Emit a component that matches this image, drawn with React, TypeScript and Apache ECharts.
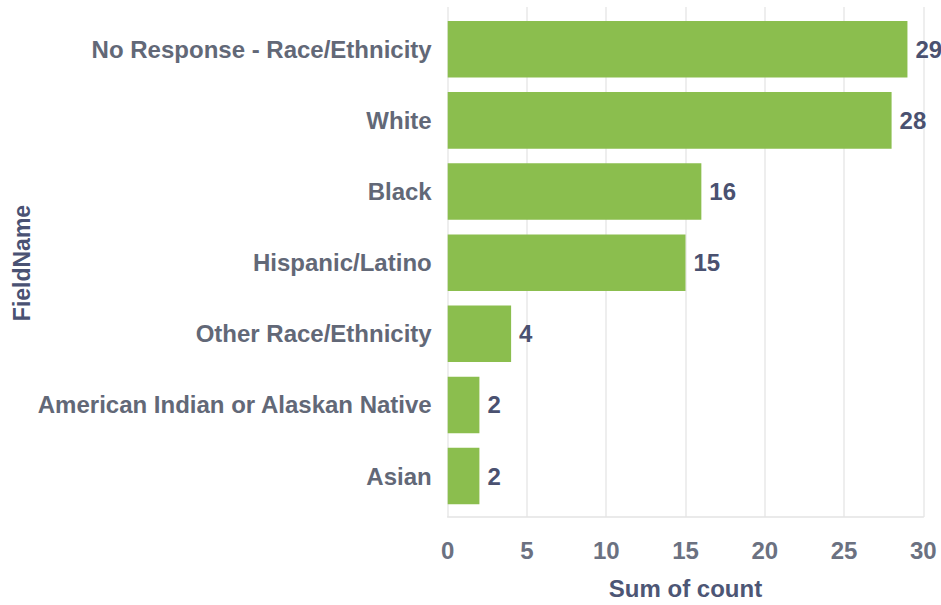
import React, { useEffect, useRef } from "react";
import * as echarts from "echarts";

const categories = [
  "No Response - Race/Ethnicity",
  "White",
  "Black",
  "Hispanic/Latino",
  "Other Race/Ethnicity",
  "American Indian or Alaskan Native",
  "Asian",
];
const counts = [29, 28, 16, 15, 4, 2, 2];
const xTicks = { min: 0, max: 30, interval: 5 };
const xAxisTitle = "Sum of count";
const yAxisTitle = "FieldName";

const FONT = "'Liberation Sans', Arial, sans-serif";

export default function App() {
  const ref = useRef<HTMLDivElement>(null);
  useEffect(() => {
    if (!ref.current) return;
    const chart = echarts.init(ref.current, null, { renderer: "svg" });
    chart.setOption({
      animation: false,
      textStyle: { fontFamily: FONT },
      grid: [
        { left: 447.7, right: 17.7, top: 7, bottom: 87.3, containLabel: false },
        { left: 447.7, right: 17.7, top: 13.7, bottom: 93.4, containLabel: false },
      ],
      xAxis: [
        {
          type: "value",
          gridIndex: 0,
          min: xTicks.min,
          max: xTicks.max,
          interval: xTicks.interval,
          axisLine: { show: true, lineStyle: { color: "#e3e3e3", width: 1.5 } },
          axisTick: { show: false },
          splitLine: { show: true, lineStyle: { color: "#e8e8e8", width: 1.5 } },
          axisLabel: {
            color: "#6b7181",
            fontSize: 24,
            fontWeight: "bold",
            fontFamily: FONT,
            margin: 21,
          },
          name: xAxisTitle,
          nameLocation: "middle",
          nameGap: 59,
          nameTextStyle: {
            color: "#4d5675",
            fontSize: 24,
            fontWeight: "bold",
            fontFamily: FONT,
          },
        },
        {
          type: "value",
          gridIndex: 1,
          min: xTicks.min,
          max: xTicks.max,
          interval: xTicks.interval,
          show: false,
          splitLine: { show: false },
        },
      ],
      yAxis: [
        { type: "value", gridIndex: 0, show: false, splitLine: { show: false } },
        {
          type: "category",
          gridIndex: 1,
          inverse: true,
          data: categories,
          axisLine: { show: false },
          axisTick: { show: false },
          splitLine: { show: false },
          axisLabel: {
            color: "#626877",
            fontSize: 24,
            fontWeight: "bold",
            fontFamily: FONT,
            margin: 16,
          },
        },
      ],
      series: [
        {
          type: "bar",
          xAxisIndex: 1,
          yAxisIndex: 1,
          data: counts,
          barCategoryGap: "20.5%",
          itemStyle: { color: "#8bbe4e" },
          label: {
            show: true,
            position: "right",
            distance: 8,
            color: "#4a5170",
            fontSize: 24,
            fontWeight: "bold",
            fontFamily: FONT,
          },
        },
      ],
      graphic: [
        {
          type: "text",
          x: 22,
          y: 263,
          rotation: Math.PI / 2,
          style: {
            text: yAxisTitle,
            fill: "#4a5273",
            fontSize: 23,
            fontWeight: "bold",
            fontFamily: FONT,
            align: "center",
            verticalAlign: "middle",
          },
        },
      ],
    });
    return () => chart.dispose();
  }, []);
  return <div ref={ref} style={{ width: 941, height: 605, position: "absolute", left: 0, top: 0 }} />;
}
